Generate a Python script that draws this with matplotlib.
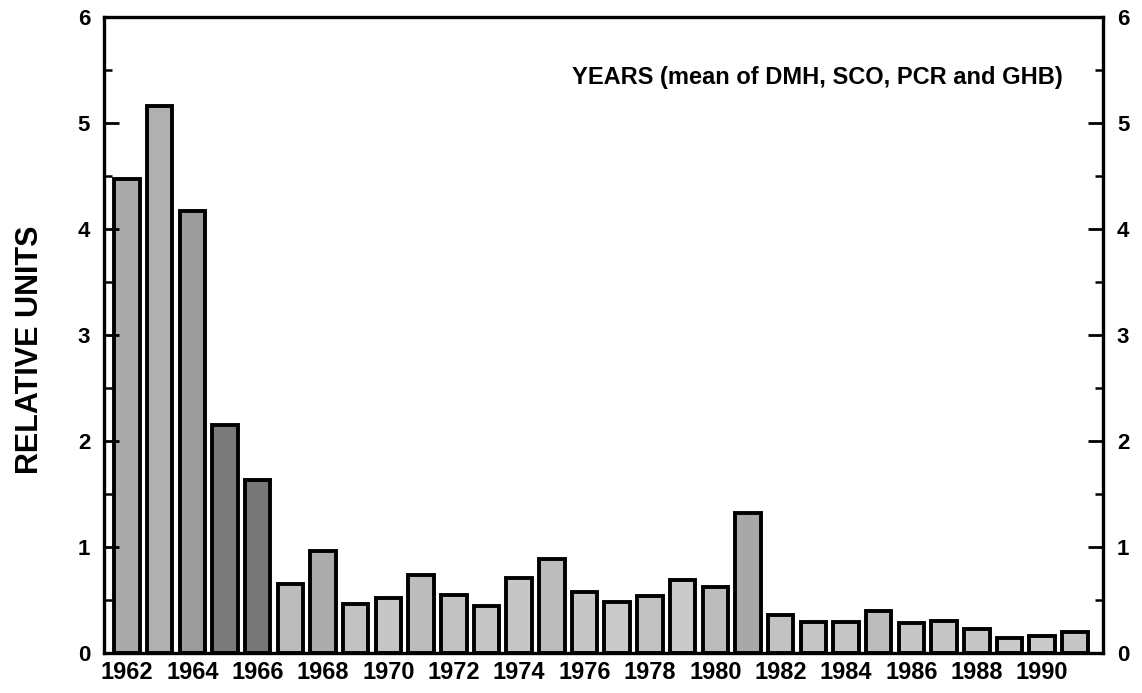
"""Relative units by year, mean of DMH, SCO, PCR and GHB."""
import matplotlib
matplotlib.use("Agg")
import matplotlib.pyplot as plt
from matplotlib.ticker import MultipleLocator

plt.rcParams["font.family"] = ["Liberation Sans", "DejaVu Sans"]
plt.rcParams["font.weight"] = "bold"

years = list(range(1962, 1992))
values = [4.47, 5.16, 4.17, 2.15, 1.63, 0.65, 0.96, 0.46, 0.52, 0.74,
          0.55, 0.44, 0.71, 0.89, 0.58, 0.48, 0.54, 0.69, 0.62, 1.32,
          0.36, 0.29, 0.29, 0.40, 0.28, 0.30, 0.23, 0.14, 0.16, 0.20]
# grey level of each bar's stipple (darker for the mid-sixties)
shades = ["#aaaaaa", "#b0b0b0", "#9c9c9c", "#7a7a7a", "#777777", "#bcbcbc",
          "#acacac", "#c2c2c2", "#c6c6c6", "#bcbcbc", "#c2c2c2", "#c6c6c6",
          "#c6c6c6", "#bcbcbc", "#c6c6c6", "#cacaca", "#c2c2c2", "#cacaca",
          "#bcbcbc", "#a8a8a8", "#c2c2c2", "#c6c6c6", "#c6c6c6", "#bcbcbc",
          "#c6c6c6", "#c6c6c6", "#c6c6c6", "#cacaca", "#cacaca", "#c6c6c6"]
xtick_years = list(range(1962, 1992, 2))

fig = plt.figure(figsize=(11.42, 6.93), dpi=100)
ax = fig.add_axes([0.0911, 0.0577, 0.8747, 0.9178])

ax.bar(years, values, width=0.78, color=shades, edgecolor="black", linewidth=2.8)

ax.set_xlim(1961.3, 1991.86)
ax.set_ylim(0, 6)
ax.set_xticks(xtick_years)
ax.set_xticklabels([str(y) for y in xtick_years])
ax.yaxis.set_major_locator(MultipleLocator(1))
ax.yaxis.set_minor_locator(MultipleLocator(0.5))

for s in ax.spines.values():
    s.set_linewidth(2.4)

ax.tick_params(axis="x", length=0, pad=6, labelsize=17)
ax.tick_params(axis="y", which="major", direction="in", length=11, width=2,
               right=True, labelright=True, labelsize=16, pad=10)
ax.tick_params(axis="y", which="minor", direction="in", length=6, width=1.8,
               right=True)

ax.set_ylabel("RELATIVE UNITS", fontsize=22, fontweight="bold")
ax.yaxis.set_label_coords(-0.059, 0.477)
ax.text(0.96, 0.905, "YEARS (mean of DMH, SCO, PCR and GHB)", transform=ax.transAxes,
        ha="right", va="center", fontsize=17, fontweight="bold")

fig.savefig("out.png", dpi=100)
